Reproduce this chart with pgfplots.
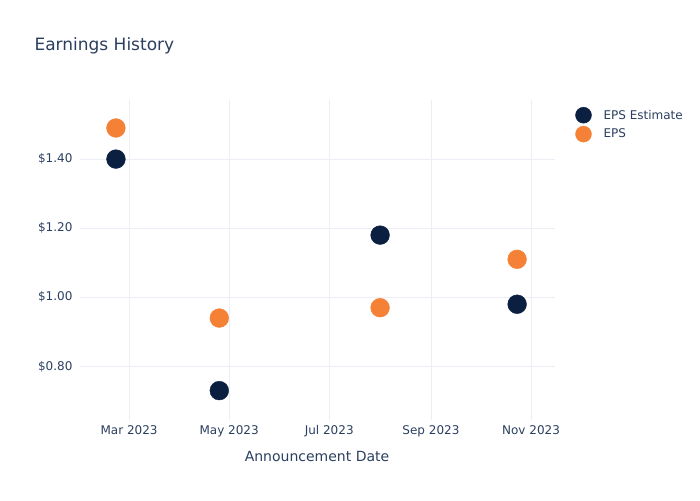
\documentclass[border=0pt]{standalone}
\usepackage{pgfplots}
\pgfplotsset{compat=1.18}
\usepackage{fontspec}
\setmainfont{DejaVu Sans}
\definecolor{navy}{HTML}{0B1F41}
\definecolor{orng}{HTML}{F58136}
\definecolor{txt}{HTML}{2A3F5F}
\definecolor{grd}{HTML}{EBEEF4}
\begin{document}
\begin{tikzpicture}[x=1pt,y=1pt]
\useasboundingbox (0,0) rectangle (700,500);
\begin{axis}[
  at={(80pt,80pt)}, anchor=south west,
  width=475pt, height=320pt, scale only axis,
  xmin=29.1, xmax=318.6, ymin=0.645, ymax=1.571,
  axis line style={draw=none},
  major tick length=0pt,
  xtick={59,120,181,243,304},
  xticklabels={Mar 2023,May 2023,Jul 2023,Sep 2023,Nov 2023},
  ytick={0.8,1.0,1.2,1.4},
  yticklabels={\$0.80,\$1.00,\$1.20,\$1.40},
  xmajorgrids, ymajorgrids,
  grid style={grd, line width=0.8pt},
  tick label style={font=\fontsize{12}{14}\selectfont, text=txt},
  /pgf/number format/assume math mode=true,
  xticklabel style={yshift=-2pt},
  yticklabel style={xshift=-4pt},
  legend style={at={(1.036,0.985)}, anchor=north west, draw=none, fill=none,
    font=\fontsize{12}{19}\selectfont, text=txt, row sep=2.5pt,
    legend cell align=left},
  legend image code/.code={\path[draw=none,fill=none] (-8pt,0pt) -- (18pt,0pt); \fill (0pt,0pt) circle (8pt);},
  clip=false,
]
\addplot[only marks, mark=*, mark size=9.4pt, color=navy, draw=navy, fill=navy] coordinates {
 (51,1.40) (114,0.73) (212,1.18) (295.5,0.98)
};
\addlegendentry{EPS Estimate}
\addplot[only marks, mark=*, mark size=9.4pt, color=orng, draw=orng, fill=orng] coordinates {
 (51,1.49) (114,0.94) (212,0.97) (295.5,1.11)
};
\addlegendentry{EPS}
\end{axis}
\node[anchor=west, text=txt, font=\fontsize{17}{20}\selectfont] at (31,454) {Earnings History};
\node[text=txt, font=\fontsize{14}{16}\selectfont] at (317,44) {Announcement Date};
\end{tikzpicture}
\end{document}
